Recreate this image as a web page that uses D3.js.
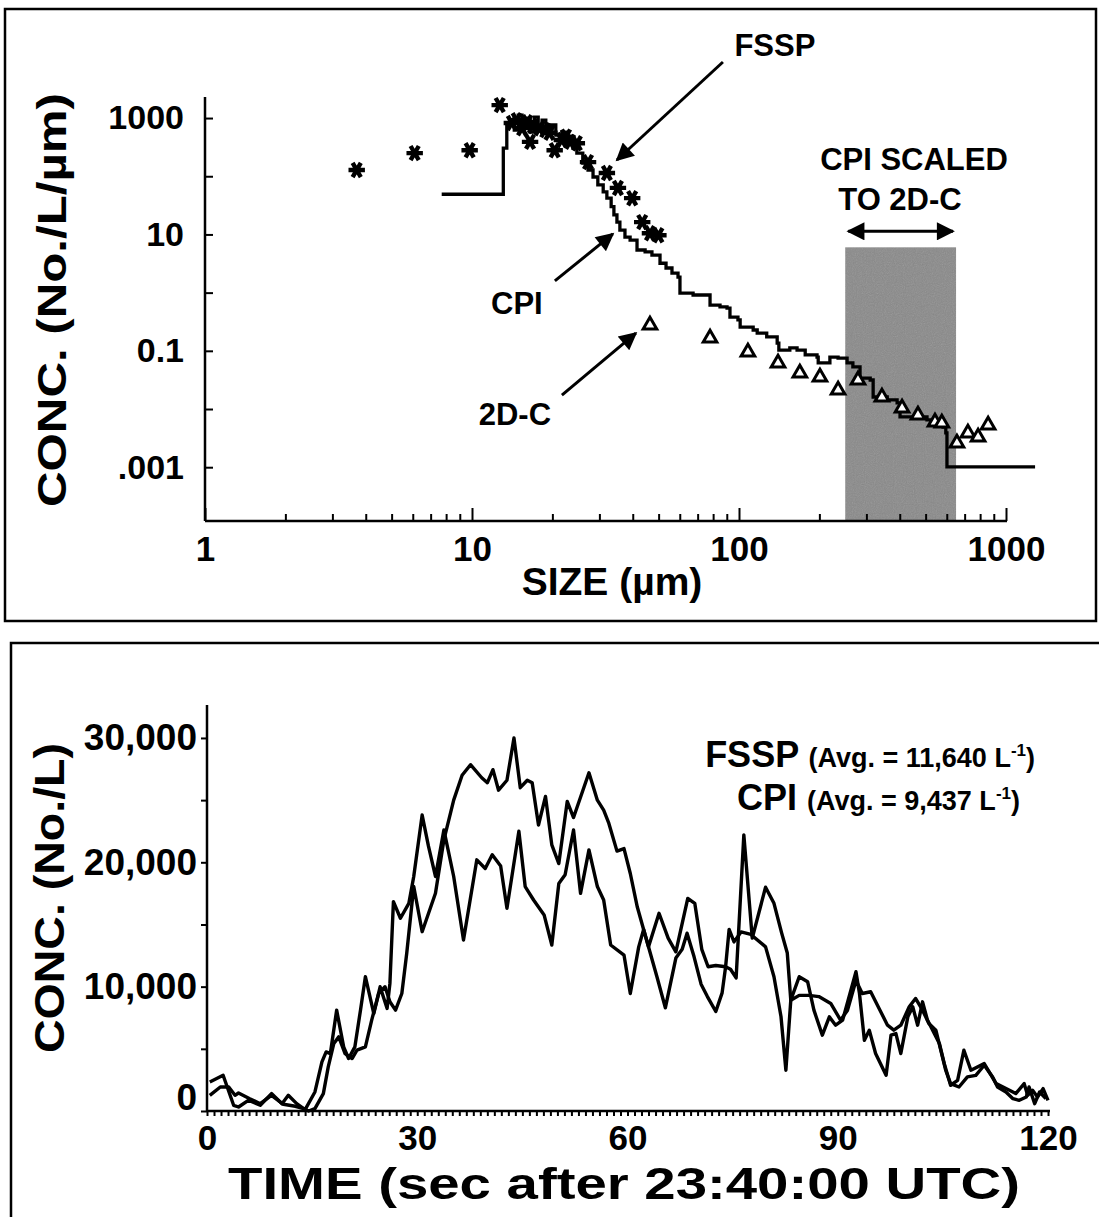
<!DOCTYPE html>
<html>
<head>
<meta charset="utf-8">
<script src="https://cdn.jsdelivr.net/npm/d3@7"></script>
<style>
  html, body { margin: 0; padding: 0; background: #fff; }
  svg { display: block; }
  text { font-family: "Liberation Sans", Arial, Helvetica, sans-serif; font-weight: bold; fill: #000; }
</style>
</head>
<body>
<svg id="chart" width="1099" height="1217"></svg>
<script>
// ---------- Size distribution (upper panel) ----------
const sizeTicks = [1, 10, 100, 1000];
const concTicks = [1e-3, 1e-2, 0.1, 1, 10, 100, 1000];
const concTickLabels = new Map([[1000, "1000"], [10, "10"], [0.1, "0.1"], [1e-3, ".001"]]);

// FSSP size spectrum: [size µm, conc No./L/µm]
const fsspSpectrum = [
  [3.7, 128], [6.1, 250], [9.8, 280], [12.7, 1670], [14.1, 820], [14.7, 920], [15.4, 670],
  [16.1, 850], [16.5, 390], [16.9, 730], [17.9, 670], [18.8, 620], [19.5, 560], [20.4, 280],
  [21.7, 420], [22.5, 480], [23.3, 390], [24.7, 370], [27.2, 175], [32.0, 114], [35.2, 63],
  [39.8, 42], [43.4, 16.3], [46.4, 10.5], [49.9, 9.7]
];

// CPI size spectrum, bin left edge and level: [size µm, conc No./L/µm]
const cpiSpectrum = [
  [7.7, 49], [13.1, 305], [13.5, 820], [14.4, 620], [14.9, 1120], [15.4, 670], [15.9, 1000],
  [16.5, 575], [17.1, 1040], [17.7, 670], [18.3, 920], [18.9, 620], [19.6, 760], [20.6, 510],
  [21.7, 575], [22.9, 420], [24.1, 305], [24.7, 250], [26.0, 169], [27.2, 128], [28.4, 97],
  [29.6, 71], [31.0, 54], [32.0, 42], [33.2, 30], [34.0, 21.6], [34.9, 16.3], [35.8, 11.9],
  [37.4, 9.0], [39.1, 8.0], [41.5, 5.4], [44.5, 5.0], [47.2, 4.4], [50.6, 3.2], [53.3, 2.65],
  [56.1, 2.17], [59.1, 1.85], [60.1, 0.98], [67.3, 0.91], [77.9, 0.61], [84.9, 0.57],
  [90.2, 0.54], [92.5, 0.38], [99.1, 0.34], [101, 0.256], [113, 0.228], [117, 0.202],
  [127, 0.173], [139, 0.136], [141, 0.103], [155, 0.112], [165, 0.103], [177, 0.085],
  [196, 0.078], [198, 0.062], [219, 0.078], [235, 0.075], [254, 0.062], [267, 0.053],
  [284, 0.034], [310, 0.0315], [318, 0.0161], [359, 0.0143], [391, 0.0127], [401, 0.0073],
  [506, 0.0065], [533, 0.0057], [581, 0.0049], [595, 0.0039], [601, 0.00101], [1285, 0.00101]
];

// 2D-C size spectrum: [size µm, conc No./L/µm]
const twoDCSpectrum = [
  [46.4, 0.277], [77.9, 0.166], [108, 0.0953], [140, 0.0617], [169, 0.0416], [201, 0.0355],
  [235, 0.0212], [279, 0.0315], [343, 0.0161], [408, 0.0104], [468, 0.00788], [542, 0.00598],
  [575, 0.00574], [655, 0.0026], [720, 0.00387], [786, 0.0033], [857, 0.0053]
];

// size band where CPI was scaled to the 2D-C
const scaledBand = [250, 650];
const scaledBandTop = 6;

// ---------- Time series (lower panel) ----------
const timeTicks = [0, 30, 60, 90, 120];
const countTicks = [0, 10000, 20000, 30000];

// [seconds after 23:40:00 UTC, conc No./L]
const fsspSeries = [
  [0.4, 1260], [1.9, 1930], [3.1, 1930], [4.0, 1260], [4.5, 1450], [6.1, 990], [7.6, 590],
  [9.2, 1260], [10.9, 540], [12.6, 380], [13.8, 190], [14.5, 0], [15.4, 190], [16.6, 1400],
  [17.3, 3550], [18.1, 5430], [18.8, 5960], [19.7, 4620], [20.7, 4220], [21.4, 4890],
  [22.6, 5160], [23.5, 7310], [24.5, 9450], [25.4, 9990], [26.1, 8780], [26.9, 8110],
  [27.8, 9450], [28.5, 12680], [29.5, 18050], [30.7, 14420], [32.6, 17510], [33.8, 21800],
  [35.2, 25000], [36.4, 27000], [37.6, 27850], [39.2, 26800], [40.0, 26400], [40.8, 27450],
  [41.6, 25800], [42.8, 26600], [43.8, 30000], [44.7, 26000], [45.7, 26600], [46.4, 26400],
  [47.3, 23000], [48.3, 25300], [49.2, 21400], [50.2, 19900], [51.4, 24900], [52.3, 23600],
  [54.5, 27200], [55.7, 25000], [56.6, 24200], [57.3, 23200], [58.5, 20900], [59.5, 21100],
  [60.4, 19100], [61.4, 16400], [62.3, 14600], [63.0, 13200], [64.5, 15900], [65.8, 13900],
  [66.9, 12800], [68.6, 17100], [69.6, 16700], [70.6, 13000], [71.5, 11600], [72.6, 11700],
  [74.0, 11600], [74.7, 11400], [75.5, 10700], [76.6, 22200], [77.8, 13900], [79.7, 18000],
  [80.9, 16700], [82.0, 14300], [82.8, 12700], [83.3, 8900], [84.5, 9300], [85.9, 9300],
  [87.3, 9200], [89.0, 8650], [90.4, 7310], [91.4, 8110], [92.6, 10500], [93.5, 9450],
  [94.7, 9590], [95.9, 8250], [97.1, 6900], [98.0, 6500], [99.0, 6900], [100.2, 8380],
  [101.1, 9050], [102.1, 8110], [103.0, 7040], [104.0, 6500], [104.7, 4890], [105.4, 3280],
  [106.1, 2200], [107.3, 1930], [108.5, 2740], [109.7, 2870], [110.9, 3680], [112.1, 2740],
  [112.8, 1930], [114.0, 1530], [115.0, 990], [115.9, 860], [116.9, 1130], [117.3, 1930],
  [118.1, 590], [118.8, 1530], [119.7, 990]
];

const cpiSeries = [
  [0.4, 2340], [2.3, 2870], [3.8, 460], [4.5, 320], [5.9, 860], [7.6, 460], [9.2, 1400],
  [10.7, 590], [11.6, 1260], [12.8, 590], [14.0, 110], [15.4, 1530], [16.4, 3950], [17.0, 4750],
  [17.6, 4620], [18.5, 8110], [19.5, 5160], [20.2, 4220], [21.1, 5160], [21.9, 8110],
  [22.6, 10800], [23.8, 7840], [24.7, 9990], [25.7, 8250], [26.1, 10260], [26.6, 16840],
  [27.6, 15500], [28.8, 16700], [29.5, 18860], [30.7, 23800], [31.6, 21300], [32.6, 18860],
  [33.8, 22600], [35.2, 18860], [36.6, 13750], [38.5, 20200], [39.7, 19500], [40.7, 20600],
  [41.9, 19700], [42.8, 16300], [44.5, 22500], [45.4, 18050], [46.6, 16970], [48.1, 15770],
  [49.2, 13350], [50.2, 18300], [51.1, 19000], [52.3, 22600], [53.3, 17500], [54.5, 21000],
  [55.7, 18050], [56.6, 16970], [57.6, 13350], [59.5, 12540], [60.4, 9450], [61.6, 13200],
  [62.3, 14600], [64.2, 10800], [65.4, 8300], [66.9, 12300], [67.8, 13000], [68.5, 14300],
  [69.5, 12400], [70.5, 10200], [71.4, 9200], [72.6, 8000], [73.5, 9500], [74.0, 11600],
  [74.5, 14600], [75.2, 13600], [76.2, 14400], [77.6, 14200], [79.7, 13200], [80.9, 10800],
  [81.9, 7600], [82.6, 3280], [83.3, 8920], [84.5, 10800], [85.7, 10400], [86.6, 8110],
  [87.8, 6100], [88.8, 7570], [89.7, 6900], [90.7, 7310], [92.6, 11200], [93.1, 9450],
  [93.8, 5690], [94.5, 6500], [95.4, 4620], [96.9, 2870], [97.6, 6100], [98.3, 6230],
  [99.0, 4620], [100.0, 7570], [100.7, 8380], [101.4, 6900], [102.1, 8780], [102.8, 7310],
  [104.5, 5430], [105.2, 3810], [106.1, 2070], [107.1, 2470], [108.0, 4890], [109.0, 3280],
  [110.9, 3810], [112.6, 2200], [114.5, 1670], [115.4, 1400], [116.6, 2200], [117.1, 1260],
  [117.8, 1670], [118.5, 1130], [119.3, 1800], [120.0, 860]
];

const fsspAvg = 11640;
const cpiAvg = 9437;

// ---------- drawing ----------
const svg = d3.select("#chart");
const defs = svg.append("defs");

defs.append("marker")
  .attr("id", "head").attr("viewBox", "0 0 10 10").attr("refX", 9).attr("refY", 5)
  .attr("markerUnits", "userSpaceOnUse").attr("markerWidth", 22).attr("markerHeight", 18)
  .attr("orient", "auto-start-reverse")
  .append("path").attr("d", "M0,0 L10,5 L0,10 Z").attr("fill", "#000");

const grain = defs.append("filter").attr("id", "grain").attr("x", 0).attr("y", 0).attr("width", 1).attr("height", 1);
grain.append("feTurbulence").attr("type", "fractalNoise").attr("baseFrequency", 0.9).attr("numOctaves", 2).attr("seed", 3).attr("result", "n");
grain.append("feColorMatrix").attr("in", "n").attr("type", "saturate").attr("values", 0).attr("result", "g");
grain.append("feComposite").attr("in", "g").attr("in2", "SourceGraphic").attr("operator", "in");

function styleAxis(g, size) {
  g.attr("font-family", null).attr("font-size", size).attr("font-weight", "bold");
  g.selectAll("line").attr("stroke", "#000").attr("stroke-width", 2);
  g.select(".domain").remove();
}

// panel frames
svg.append("rect").attr("x", 5).attr("y", 9).attr("width", 1091).attr("height", 612)
  .attr("fill", "none").attr("stroke", "#000").attr("stroke-width", 2.5);
svg.append("rect").attr("x", 11).attr("y", 643).attr("width", 1100).attr("height", 600)
  .attr("fill", "none").attr("stroke", "#000").attr("stroke-width", 2.5);

// ===== upper panel =====
const xS = d3.scaleLog().domain([1, 1000]).range([205, 1006]);
const yS = d3.scaleLog().domain([1.19e-4, 2300]).range([521, 97]);
const upper = svg.append("g");

// shaded band
const bx0 = xS(scaledBand[0]), bx1 = xS(scaledBand[1]);
upper.append("rect").attr("x", bx0).attr("y", yS(scaledBandTop))
  .attr("width", bx1 - bx0).attr("height", yS.range()[0] - yS(scaledBandTop)).attr("fill", "#898989");
upper.append("rect").attr("x", bx0).attr("y", yS(scaledBandTop))
  .attr("width", bx1 - bx0).attr("height", yS.range()[0] - yS(scaledBandTop))
  .attr("fill", "#000").attr("opacity", 0.25).attr("filter", "url(#grain)");

// double arrow over the band
upper.append("line").attr("x1", bx0 + 3).attr("x2", bx1 - 3)
  .attr("y1", yS(scaledBandTop) - 16).attr("y2", yS(scaledBandTop) - 16)
  .attr("stroke", "#000").attr("stroke-width", 3)
  .attr("marker-start", "url(#head)").attr("marker-end", "url(#head)");

// CPI step line
upper.append("path").datum(cpiSpectrum)
  .attr("d", d3.line().x(d => xS(d[0])).y(d => yS(d[1])).curve(d3.curveStepAfter))
  .attr("fill", "none").attr("stroke", "#000").attr("stroke-width", 3.3);

// FSSP asterisks
upper.selectAll(".fssp").data(fsspSpectrum).join("path")
  .attr("transform", d => `translate(${xS(d[0])},${yS(d[1])}) rotate(90)`)
  .attr("d", d3.symbol(d3.symbolAsterisk, 190))
  .attr("fill", "none").attr("stroke", "#000").attr("stroke-width", 4.4);

// 2D-C triangles
upper.selectAll(".tdc").data(twoDCSpectrum).join("path")
  .attr("transform", d => `translate(${xS(d[0])},${yS(d[1])})`)
  .attr("d", d3.symbol(d3.symbolTriangle, 80))
  .attr("fill", "#fff").attr("stroke", "#000").attr("stroke-width", 3);

// axes
upper.append("line").attr("x1", 205).attr("x2", 205).attr("y1", yS.range()[1]).attr("y2", yS.range()[0])
  .attr("stroke", "#000").attr("stroke-width", 2.5);
upper.append("line").attr("x1", 205).attr("x2", 1007).attr("y1", yS.range()[0]).attr("y2", yS.range()[0])
  .attr("stroke", "#000").attr("stroke-width", 2.5);

const minorSizes = [];
[1, 10, 100].forEach(dec => d3.range(2, 10).forEach(m => minorSizes.push(dec * m)));
upper.append("g").attr("transform", `translate(0,${yS.range()[0]})`)
  .call(d3.axisBottom(xS).tickValues(minorSizes).tickSize(-7).tickFormat(""))
  .call(g => styleAxis(g, 10));
upper.append("g").attr("transform", `translate(0,${yS.range()[0]})`)
  .call(d3.axisBottom(xS).tickValues(sizeTicks).tickSize(-13).tickPadding(15).tickFormat(d3.format("d")))
  .call(g => styleAxis(g, 35));
upper.append("g").attr("transform", "translate(205,0)")
  .call(d3.axisLeft(yS).tickValues(concTicks).tickSize(-8).tickPadding(21)
    .tickFormat(d => concTickLabels.get(d) || ""))
  .call(g => styleAxis(g, 34));

// titles
upper.append("text").attr("transform", "translate(66,300) rotate(-90)")
  .attr("text-anchor", "middle").attr("font-size", 40)
  .attr("textLength", 414).attr("lengthAdjust", "spacingAndGlyphs").text("CONC. (No./L/µm)");
upper.append("text").attr("x", 612).attr("y", 595).attr("text-anchor", "middle")
  .attr("font-size", 39).text("SIZE (µm)");
upper.append("text").attr("x", 914).attr("y", 170).attr("text-anchor", "middle")
  .attr("font-size", 31).text("CPI SCALED");
upper.append("text").attr("x", 900).attr("y", 210).attr("text-anchor", "middle")
  .attr("font-size", 31).text("TO 2D-C");

// pointer annotations: tip at a data location, tail offset in pixels
const pointers = [
  { label: "FSSP", tip: [34.9, 190], tail: [106, -98], text: [158, -104] },
  { label: "CPI", tip: [33.7, 10.2], tail: [-58, 47], text: [-96, 80] },
  { label: "2D-C", tip: [41.1, 0.202], tail: [-74, 62], text: [-121, 92] }
];
pointers.forEach(p => {
  const tx = xS(p.tip[0]), ty = yS(p.tip[1]);
  upper.append("line").attr("x1", tx + p.tail[0]).attr("y1", ty + p.tail[1]).attr("x2", tx).attr("y2", ty)
    .attr("stroke", "#000").attr("stroke-width", 3).attr("marker-end", "url(#head)");
  upper.append("text").attr("x", tx + p.text[0]).attr("y", ty + p.text[1])
    .attr("text-anchor", "middle").attr("font-size", 31).text(p.label);
});

// ===== lower panel =====
const xT = d3.scaleLinear().domain([0, 120]).range([207, 1048]);
const yT = d3.scaleLinear().domain([0, 32650]).range([1111, 705]);
const lower = svg.append("g");

const tline = d3.line().x(d => xT(d[0])).y(d => yT(d[1]));
[cpiSeries, fsspSeries].forEach(s => {
  lower.append("path").datum(s).attr("d", tline)
    .attr("fill", "none").attr("stroke", "#000").attr("stroke-width", 3.4)
    .attr("stroke-linejoin", "round");
});

lower.append("line").attr("x1", 207).attr("x2", 207).attr("y1", yT.range()[1]).attr("y2", yT.range()[0])
  .attr("stroke", "#000").attr("stroke-width", 2.5);
lower.append("line").attr("x1", 207).attr("x2", 1050).attr("y1", yT.range()[0]).attr("y2", yT.range()[0])
  .attr("stroke", "#000").attr("stroke-width", 2.5);

lower.append("g").attr("transform", `translate(0,${yT.range()[0]})`)
  .call(d3.axisBottom(xT).tickValues(d3.range(0, 121, 1)).tickSize(5).tickFormat(""))
  .call(g => styleAxis(g, 10));
lower.append("g").attr("transform", `translate(0,${yT.range()[0]})`)
  .call(d3.axisBottom(xT).tickValues(timeTicks).tickSize(0).tickPadding(14).tickFormat(d3.format("d")))
  .call(g => styleAxis(g, 35));
lower.append("g").attr("transform", "translate(207,0)")
  .call(d3.axisLeft(yT).tickValues(d3.range(0, 30001, 5000)).tickSize(6).tickPadding(4)
    .tickFormat(d => countTicks.includes(d) ? d3.format(",")(d) : ""))
  .call(g => styleAxis(g, 37))
  .call(g => g.selectAll(".tick").filter(d => d === 0).select("text").attr("dy", "-0.05em"));

lower.append("text").attr("transform", "translate(64,898) rotate(-90)")
  .attr("text-anchor", "middle").attr("font-size", 42)
  .attr("textLength", 310).attr("lengthAdjust", "spacingAndGlyphs").text("CONC. (No./L)");
lower.append("text").attr("x", 624).attr("y", 1199).attr("text-anchor", "middle")
  .attr("font-size", 45).attr("textLength", 792).attr("lengthAdjust", "spacingAndGlyphs")
  .text("TIME (sec after 23:40:00 UTC)");

// legend with averages
const fmt = d3.format(",");
[{ name: "FSSP", avg: fsspAvg, x: 1035, y: 767 }, { name: "CPI", avg: cpiAvg, x: 1020, y: 810 }]
  .forEach(l => {
    const t = lower.append("text").attr("x", l.x).attr("y", l.y).attr("text-anchor", "end");
    t.append("tspan").attr("font-size", 36).text(l.name + " ");
    t.append("tspan").attr("font-size", 27).text(`(Avg. = ${fmt(l.avg)} L`);
    t.append("tspan").attr("font-size", 17).attr("dy", -11).text("-1");
    t.append("tspan").attr("font-size", 27).attr("dy", 11).text(")");
  });
</script>
</body>
</html>
